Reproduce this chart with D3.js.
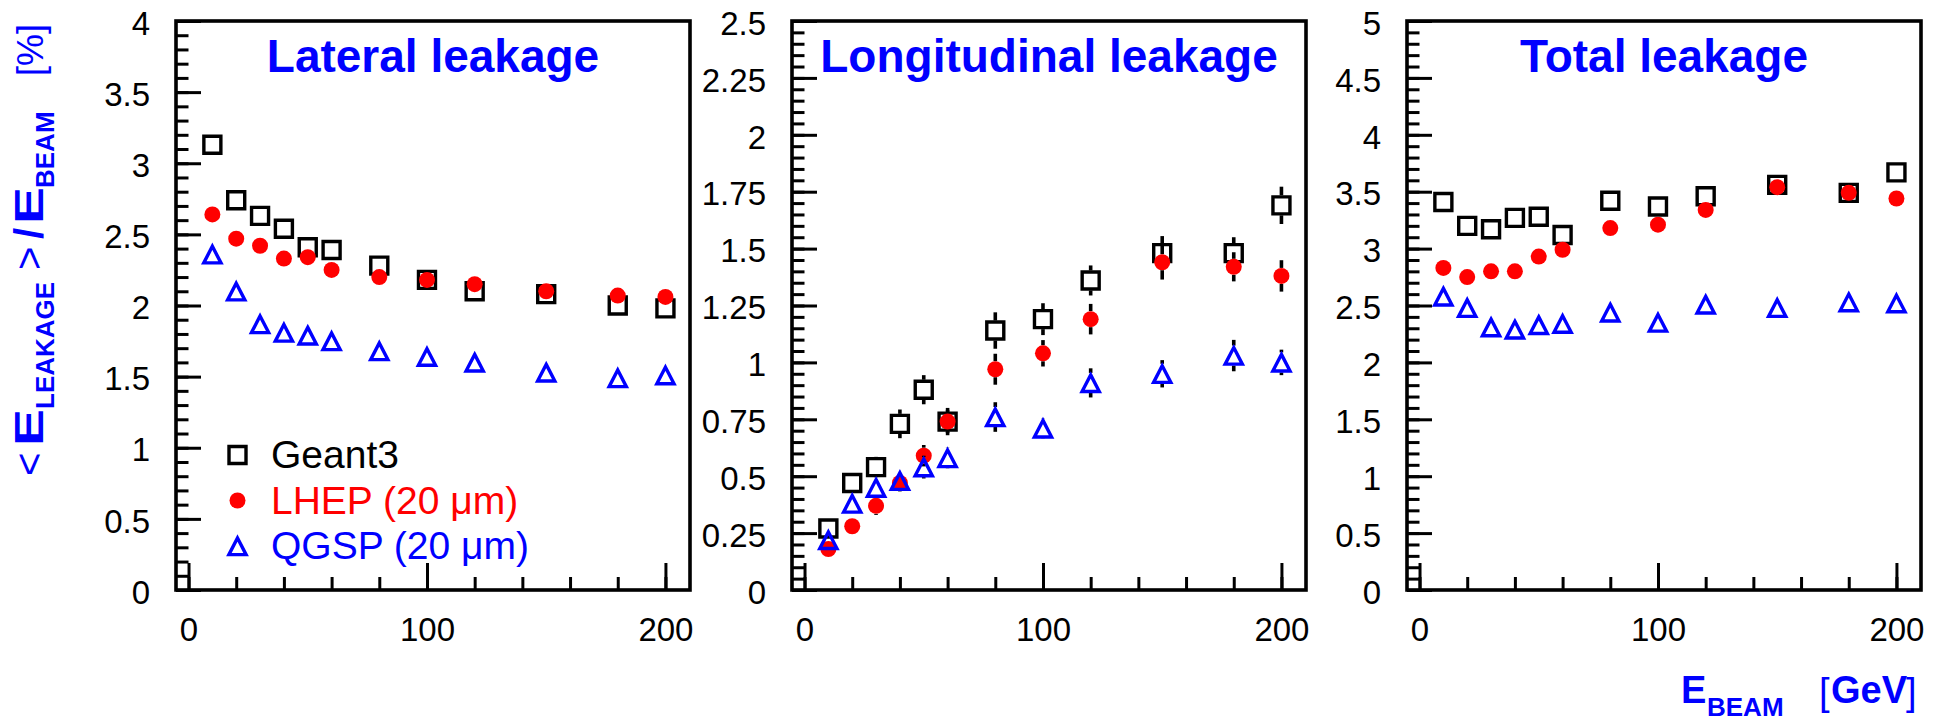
<!DOCTYPE html>
<html>
<head>
<meta charset="utf-8">
<script src="https://d3js.org/d3.v7.min.js"></script>
<style>
  body { margin: 0; background: #fff; }
  svg { display: block; font-family: "Liberation Sans", Arial, Helvetica, sans-serif; }
</style>
</head>
<body>
<svg id="drawing_region"></svg>
<script>
// beam energies (GeV)
const energies = [10, 20, 30, 40, 50, 60, 80, 100, 120, 150, 180, 200];

// lateral leakage [%]
const lateralGeant3 = [3.13, 2.74, 2.63, 2.54, 2.41, 2.39, 2.28, 2.18, 2.10, 2.08, 2.00, 1.98];
const lateralLHEP   = [2.64, 2.47, 2.42, 2.33, 2.34, 2.25, 2.20, 2.18, 2.15, 2.10, 2.07, 2.06];
const lateralQGSP   = [2.36, 2.10, 1.87, 1.81, 1.79, 1.75, 1.68, 1.64, 1.60, 1.53, 1.49, 1.51];

// longitudinal leakage [%] and errors
const longGeant3 = [0.27, 0.47, 0.54, 0.73, 0.88, 0.74, 1.14, 1.19, 1.36, 1.48, 1.48, 1.69];
const longLHEP   = [0.18, 0.28, 0.37, 0.47, 0.59, 0.74, 0.97, 1.04, 1.19, 1.44, 1.42, 1.38];
const longQGSP   = [0.22, 0.38, 0.45, 0.48, 0.54, 0.58, 0.76, 0.71, 0.91, 0.95, 1.03, 1.00];
const longGeant3Err = [0.025, 0.035, 0.045, 0.063, 0.064, 0.06, 0.08, 0.07, 0.066, 0.075, 0.07, 0.082];
const longLHEPErr   = [0.02, 0.03, 0.04, 0.037, 0.047, 0.05, 0.068, 0.058, 0.067, 0.076, 0.064, 0.069];
const longQGSPErr   = [0.02, 0.03, 0.035, 0.04, 0.05, 0.045, 0.065, 0.045, 0.064, 0.06, 0.069, 0.056];

// total leakage [%]
const totalGeant3 = [3.41, 3.20, 3.17, 3.27, 3.28, 3.12, 3.42, 3.37, 3.46, 3.56, 3.49, 3.67];
const totalLHEP   = [2.83, 2.75, 2.80, 2.80, 2.93, 2.99, 3.18, 3.21, 3.34, 3.54, 3.49, 3.44];
const totalQGSP   = [2.58, 2.48, 2.31, 2.29, 2.33, 2.34, 2.44, 2.35, 2.51, 2.48, 2.53, 2.52];

const panelTitles = ["Lateral leakage", "Longitudinal leakage", "Total leakage"];
const lateralTicks = [0, 0.5, 1, 1.5, 2, 2.5, 3, 3.5, 4];
const longTicks = [0, 0.25, 0.5, 0.75, 1, 1.25, 1.5, 1.75, 2, 2.25, 2.5];
const totalTicks = [0, 0.5, 1, 1.5, 2, 2.5, 3, 3.5, 4, 4.5, 5];
const xMajorTicks = [0, 100, 200];
const xMinorTicks = [0, 20, 40, 60, 80, 100, 120, 140, 160, 180, 200];
const legendLabels = ["Geant3", "LHEP (20 \u03bcm)", "QGSP (20 \u03bcm)"];
const seriesColors = ["#000000", "#ff0000", "#0000ff"];
const seriesShapes = ["square", "circle", "triangle"];

const svg = d3.select("#drawing_region")
    .attr("width", 1948)
    .attr("height", 720);

// marker shapes, ROOT style 25 / 20 / 26
function markerPath(shape) {
    if (shape === "square") return "M-8.5,-8.5H8.5V8.5H-8.5Z";
    if (shape === "triangle") return "M0,-8L8.6,8.6L-8.6,8.6Z";
    return d3.symbol(d3.symbolCircle, Math.PI * 8 * 8)();
}
const markerHalf = { square: 10, circle: 8, triangle: 10 };

function drawMarker(sel, shape, color) {
    sel.attr("d", markerPath(shape))
        .attr("fill", shape === "circle" ? color : "none")
        .attr("stroke", shape === "circle" ? "none" : color)
        .attr("stroke-width", 3.4)
        .attr("stroke-linejoin", "miter");
}

class LeakagePanel {

    constructor( config, series ) {
        this.config = {
            left: config.left,
            top: config.top || 21,
            width: config.width || 514,
            height: config.height || 569,
            ymax: config.ymax,
            yticks: config.yticks,
            yminor: config.yminor,
            title: config.title,
            legend: config.legend || false
        };
        this.series = series;
        this.init();
    }

    init() {
        let self = this;

        self.chart = svg.append('g')
            .attr('transform', `translate(${self.config.left}, ${self.config.top})`);

        self.xscale = d3.scaleLinear()
            .domain( [-5.25, 210.3] )
            .range( [0, self.config.width] );

        self.yscale = d3.scaleLinear()
            .domain( [0, self.config.ymax] )
            .range( [self.config.height, 0] );
    }

    render() {
        let self = this;
        const fmt = d => String(+d.toFixed(2));

        // minor y ticks
        self.chart.append('g')
            .call( d3.axisLeft(self.yscale)
                .tickValues( d3.range(0, self.config.ymax + 1e-9, self.config.yminor) )
                .tickSize(-12.5)
                .tickFormat('') )
            .call( g => g.select('.domain').remove() )
            .call( g => g.selectAll('text').remove() )
            .selectAll('line').attr('stroke-width', 3);

        // major y ticks + labels
        self.chart.append('g')
            .call( d3.axisLeft(self.yscale)
                .tickValues( self.config.yticks )
                .tickSize(-25)
                .tickPadding(26)
                .tickFormat(fmt) )
            .call( g => g.select('.domain').remove() )
            .call( g => g.selectAll('line').attr('stroke-width', 3) )
            .call( g => g.selectAll('text')
                .attr('dy', '0.4em')
                .attr('font-size', 33)
                .attr('font-family', '"Liberation Sans", Arial, sans-serif') );

        const xg = self.chart.append('g')
            .attr('transform', `translate(0, ${self.config.height})`);

        xg.append('g')
            .call( d3.axisBottom(self.xscale)
                .tickValues( xMinorTicks )
                .tickSize(-13)
                .tickFormat('') )
            .call( g => g.select('.domain').remove() )
            .call( g => g.selectAll('text').remove() )
            .selectAll('line').attr('stroke-width', 3);

        xg.append('g')
            .call( d3.axisBottom(self.xscale)
                .tickValues( xMajorTicks )
                .tickSize(-27)
                .tickPadding(28) )
            .call( g => g.select('.domain').remove() )
            .call( g => g.selectAll('line').attr('stroke-width', 3) )
            .call( g => g.selectAll('text')
                .attr('font-size', 33)
                .attr('font-family', '"Liberation Sans", Arial, sans-serif') );

        // frame
        self.chart.append('rect')
            .attr('x', 0)
            .attr('y', 0)
            .attr('width', self.config.width)
            .attr('height', self.config.height)
            .attr('fill', 'none')
            .attr('stroke', 'black')
            .attr('stroke-width', 3.6);

        // title
        self.chart.append('text')
            .attr('x', self.config.width / 2)
            .attr('y', 51)
            .attr('text-anchor', 'middle')
            .attr('font-size', 46)
            .attr('font-weight', 'bold')
            .attr('fill', '#0000ff')
            .text( self.config.title );

        // series: error bars then markers, in draw order
        self.series.forEach( (s, i) => {
            const shape = seriesShapes[i];
            const hs = markerHalf[shape];
            const pts = energies.map( (e, k) => ({ x: e, y: s.values[k], err: s.errors ? s.errors[k] : 0 }) );

            if (s.errors) {
                const segs = [];
                pts.forEach( d => {
                    const cy = self.yscale(d.y);
                    const top = self.yscale(d.y + d.err);
                    const bot = self.yscale(d.y - d.err);
                    if (top < cy - hs) segs.push({ x: d.x, y1: top, y2: cy - hs });
                    if (bot > cy + hs) segs.push({ x: d.x, y1: cy + hs, y2: bot });
                });
                self.chart.append('g').selectAll('line')
                    .data(segs)
                    .join('line')
                    .attr('x1', d => self.xscale(d.x))
                    .attr('x2', d => self.xscale(d.x))
                    .attr('y1', d => d.y1)
                    .attr('y2', d => d.y2)
                    .attr('stroke', 'black')
                    .attr('stroke-width', 3.6);
            }

            self.chart.append('g').selectAll('path')
                .data(pts)
                .join('path')
                .attr('transform', d => `translate(${self.xscale(d.x)}, ${self.yscale(d.y)})`)
                .call( sel => drawMarker(sel, shape, seriesColors[i]) );
        });

        if (self.config.legend) {
            const lg = self.chart.append('g');
            legendLabels.forEach( (label, i) => {
                const cy = 434 + i * 45.5;
                lg.append('path')
                    .attr('transform', `translate(61.5, ${cy})`)
                    .call( sel => drawMarker(sel, seriesShapes[i], seriesColors[i]) );
                lg.append('text')
                    .attr('x', 95)
                    .attr('y', cy + 13)
                    .attr('font-size', 39)
                    .attr('fill', seriesColors[i])
                    .text(label);
            });
        }
    }
}

const panels = [
    new LeakagePanel( { left: 176, ymax: 4, yticks: lateralTicks, yminor: 0.1, title: panelTitles[0], legend: true },
        [ { values: lateralGeant3 }, { values: lateralLHEP }, { values: lateralQGSP } ] ),
    new LeakagePanel( { left: 792, ymax: 2.5, yticks: longTicks, yminor: 0.05, title: panelTitles[1] },
        [ { values: longGeant3, errors: longGeant3Err },
          { values: longLHEP, errors: longLHEPErr },
          { values: longQGSP, errors: longQGSPErr } ] ),
    new LeakagePanel( { left: 1407, ymax: 5, yticks: totalTicks, yminor: 0.1, title: panelTitles[2] },
        [ { values: totalGeant3 }, { values: totalLHEP }, { values: totalQGSP } ] )
];
panels.forEach( p => p.render() );

// y axis title, rotated
const ytitle = svg.append('text')
    .attr('transform', 'rotate(-90)')
    .attr('fill', '#0000ff');
const yParts = [
    { t: '<', at: 476, size: 40, w: 'normal', base: 43 },
    { t: 'E', at: 446, size: 40, w: 'bold', base: 43, len: 37 },
    { t: 'LEAKAGE', at: 409, size: 26, w: 'bold', base: 54 },
    { t: '>', at: 270, size: 40, w: 'normal', base: 43 },
    { t: '/', at: 239, size: 40, w: 'bold', base: 43 },
    { t: 'E', at: 224, size: 40, w: 'bold', base: 43, len: 37 },
    { t: 'BEAM', at: 188, size: 26, w: 'bold', base: 54 },
    { t: '[%]', at: 76, size: 36, w: 'normal', base: 43 }
];
yParts.forEach( p => {
    const ts = ytitle.append('tspan')
        .attr('x', -p.at)
        .attr('y', p.base)
        .attr('font-size', p.size)
        .attr('font-weight', p.w)
        .text(p.t);
    if (p.len) ts.attr('textLength', p.len).attr('lengthAdjust', 'spacingAndGlyphs');
});

// x axis title
const xtitle = svg.append('text').attr('fill', '#0000ff');
const xParts = [
    { t: 'E', at: 1681, size: 38, w: 'bold', base: 703 },
    { t: 'BEAM', at: 1707, size: 26, w: 'bold', base: 716 },
    { t: '[', at: 1819, size: 38, w: 'normal', base: 705 },
    { t: 'GeV', at: 1831, size: 38, w: 'bold', base: 703 },
    { t: ']', at: 1906, size: 38, w: 'normal', base: 705 }
];
xParts.forEach( p => {
    xtitle.append('tspan')
        .attr('x', p.at)
        .attr('y', p.base)
        .attr('font-size', p.size)
        .attr('font-weight', p.w)
        .text(p.t);
});
</script>
</body>
</html>
